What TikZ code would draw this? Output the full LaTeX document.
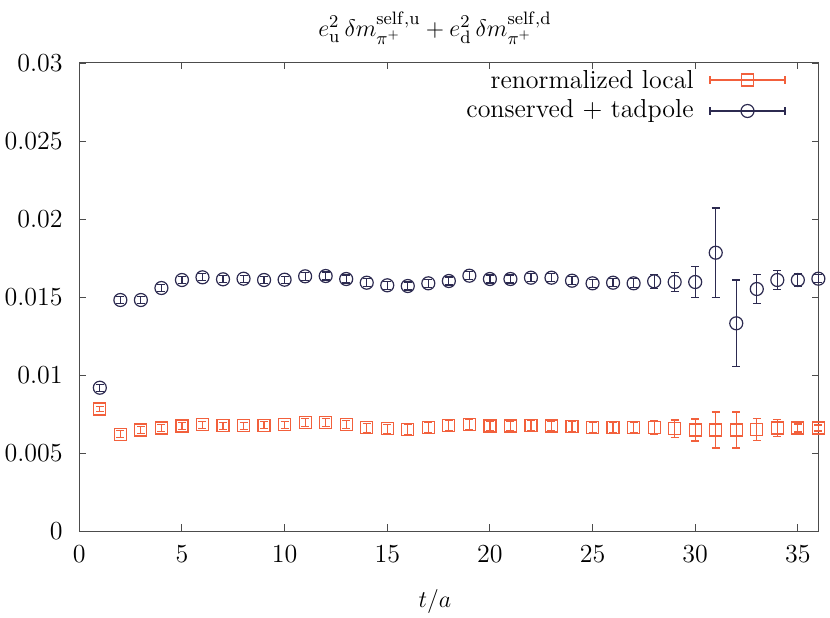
\documentclass[tikz,border=0pt]{standalone}
\definecolor{cred}{HTML}{F2603C}
\definecolor{cblue}{HTML}{2C2A50}
\begin{document}
\begin{tikzpicture}[x=0.5pt,y=-0.5pt,font=\fontsize{13}{15.5}\selectfont,
  axis/.style={draw=black!70,line width=0.5pt},
  redm/.style={draw=cred,line width=0.6pt},
  bluem/.style={draw=cblue,line width=0.6pt}]
\useasboundingbox (0,0) rectangle (830,617);
% frame
\draw[axis] (79.3,62) rectangle (818.5,531);
% y ticks
\foreach \v/\l in {0/0,1/0.005,2/0.01,3/0.015,4/0.02,5/0.025,6/0.03}{
  \pgfmathsetmacro{\yy}{531-78*\v}
  \draw[axis] (79.3,\yy) -- ++(7,0);
  \draw[axis] (818.5,\yy) -- ++(-7,0);
  \node[anchor=east,inner sep=0] (yl\v) at (63,\yy) {\l};
}
\foreach \v in {0,5,...,35}{
  \pgfmathsetmacro{\xx}{79.3+20.53*\v}
  \draw[axis] (\xx,531) -- ++(0,-7);
  \draw[axis] (\xx,62) -- ++(0,7);
  \node[anchor=north,inner sep=0] (xl\v) at (\xx,545) {\v};
}
\node (title) at (435,28) {$e_{\mathrm u}^2\,\delta m^{\mathrm{self,u}}_{\pi^+} + e_{\mathrm d}^2\,\delta m^{\mathrm{self,d}}_{\pi^+}$};
\node (xlab) at (435,601) {$t/a$};
% red squares
\foreach \t/\y/\e in {1/409/2.5,2/434.3/3.5,3/430/3.5,4/428/3.5,5/426/3.5,6/424.7/3.5,7/425.7/3.5,8/425.7/3.5,9/425.3/3.5,10/424.7/3.5,11/422.7/4,12/422.7/4,13/424.7/4,14/427.7/4.5,15/428.7/4.5,16/429.7/5,17/427.3/5,18/425.5/5,19/424.3/5,20/426/5,21/426/5,22/425.3/5,23/426/5,24/426.7/5,25/427.3/5,26/427.3/5,27/427.3/5,28/427.7/6.7,29/428.7/8.7,30/430/11,31/430/18,32/430/18,33/429.3/11,34/428/8.7,35/428/4,36/428/3}{
  \pgfmathsetmacro{\xx}{79.3+20.53*\t}
  \draw[redm] (\xx,\y-\e) -- (\xx,\y+\e) (\xx-4,\y-\e) -- (\xx+4,\y-\e) (\xx-4,\y+\e) -- (\xx+4,\y+\e);
  \draw[redm] (\xx-6,\y-6) rectangle (\xx+6,\y+6);
}
% blue circles
\foreach \t/\y/\e in {1/387.7/3.5,2/300/3.5,3/300/3.5,4/288/3.5,5/280/3.5,6/277.3/3.5,7/279.3/3.5,8/278.7/3.5,9/280/3.5,10/279.7/3.5,11/276.3/4,12/276/4,13/279/4,14/282.7/4,15/285.3/4,16/286/4,17/283.3/4,18/281/4,19/275.7/4,20/279/4,21/279/4,22/277.7/4,23/277.7/4,24/280.7/4,25/283.3/4,26/282.7/4,27/283.3/4.5,28/281.3/7,29/282/9.7,30/282/15.3,31/252.7/44.8,32/323.3/43.3,33/289/14.3,34/280/9.3,35/280/6,36/278.7/4}{
  \pgfmathsetmacro{\xx}{79.3+20.53*\t}
  \draw[bluem] (\xx,\y-\e) -- (\xx,\y+\e) (\xx-4,\y-\e) -- (\xx+4,\y-\e) (\xx-4,\y+\e) -- (\xx+4,\y+\e);
  \draw[bluem] (\xx,\y) circle[radius=6.5];
}
% legend
\node[anchor=east,inner sep=0] (leg1) at (694,80) {renormalized local};
\node[anchor=east,inner sep=0] (leg2) at (694,111) {conserved + tadpole};
\coordinate (r1) at (710,80); \coordinate (r2) at (785,80);
\draw[redm] (r1) -- (r2) (710,76) -- (710,84) (785,76) -- (785,84);
\draw[redm] (741.5,74) rectangle (753.5,86);
\coordinate (b1) at (710,111); \coordinate (b2) at (785,111);
\draw[bluem] (b1) -- (b2) (710,107) -- (710,115) (785,107) -- (785,115);
\draw[bluem] (747.5,111) circle[radius=6.5];
\end{tikzpicture}
\end{document}
